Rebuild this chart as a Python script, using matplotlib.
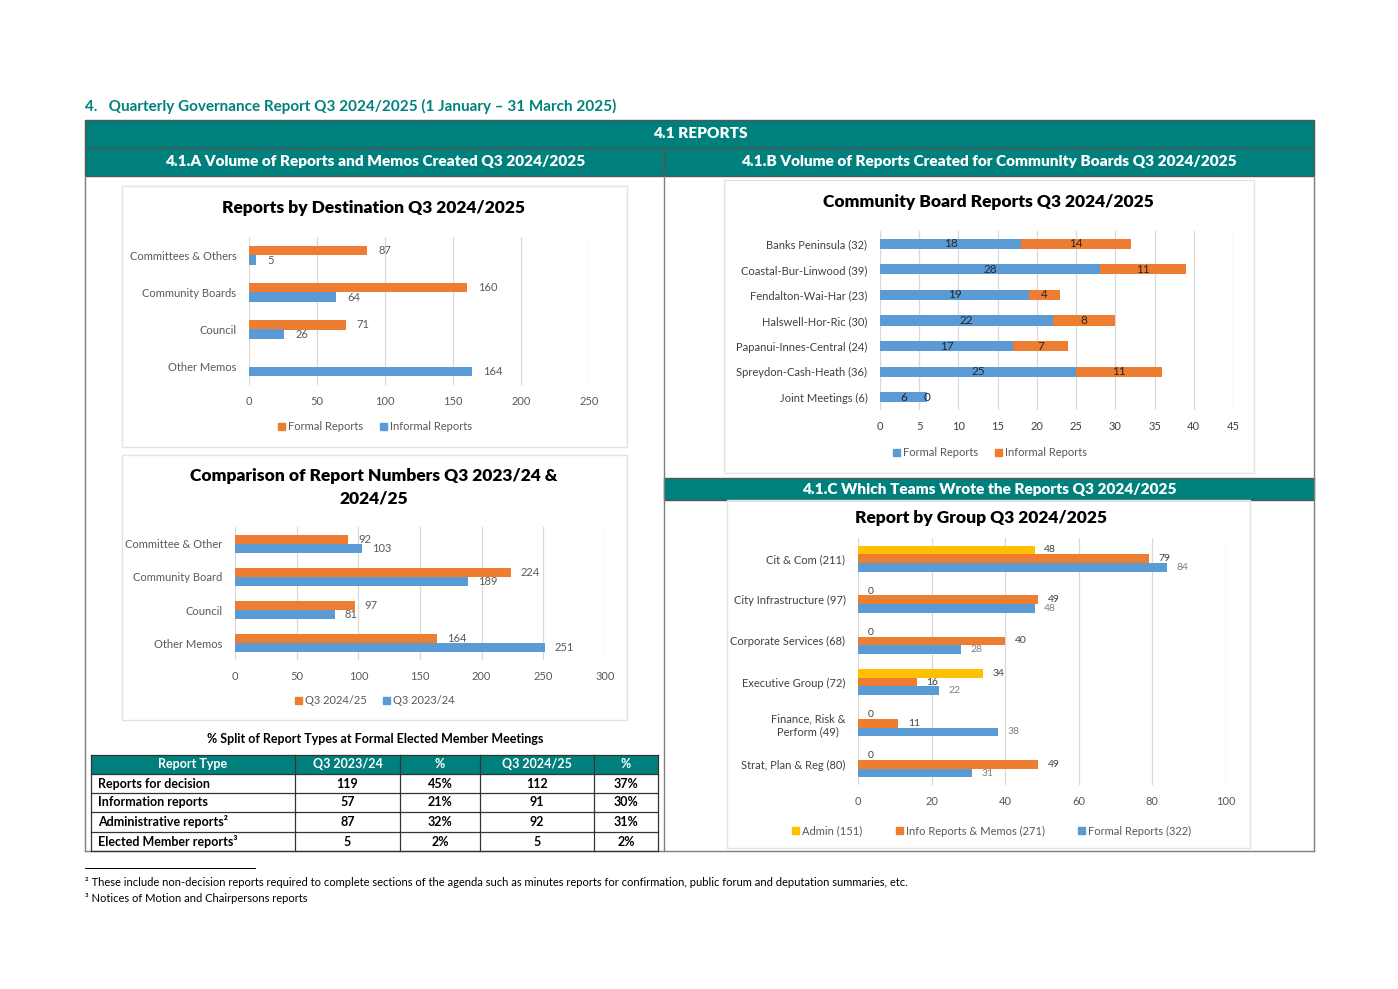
import numpy as np
import matplotlib
matplotlib.use('Agg')
import matplotlib.pyplot as plt
from matplotlib import font_manager
from matplotlib.patches import Rectangle, Patch
from matplotlib.lines import Line2D

# pick a family that actually has a bold face installed
have = {(f.name, f.weight) for f in font_manager.fontManager.ttflist}
family = 'DejaVu Sans'
for name in ['Lato', 'Roboto', 'Open Sans', 'Noto Sans', 'Liberation Sans']:
    if (name, 400) in have and (name, 700) in have:
        family = name
        break
plt.rcParams['font.family'] = [family, 'DejaVu Sans']

W, H = 1398, 989
ORANGE = '#ED7D31'
BLUE = '#5B9BD5'
YELLOW = '#FFC000'
TEAL = '#00807D'
GRID = '#D9D9D9'
GREY = '#595959'
EDGE = '#555555'
HEAVY = 'heavy'

# 4.1.A  Reports by Destination
dest_cats = ['Committees & Others', 'Community Boards', 'Council', 'Other Memos']
dest_formal = [87, 160, 71, np.nan]
dest_informal = [5, 64, 26, 164]

# Comparison of report numbers
comp_cats = ['Committee & Other', 'Community Board', 'Council', 'Other Memos']
comp_2425 = [92, 224, 97, 164]
comp_2324 = [103, 189, 81, 251]

# 4.1.B  Community boards
board_cats = ['Banks Peninsula (32)', 'Coastal-Bur-Linwood (39)', 'Fendalton-Wai-Har (23)',
              'Halswell-Hor-Ric (30)', 'Papanui-Innes-Central (24)', 'Spreydon-Cash-Heath (36)',
              'Joint Meetings (6)']
board_formal = [18, 28, 19, 22, 17, 25, 6]
board_informal = [14, 11, 4, 8, 7, 11, 0]

# 4.1.C  Report by group
group_cats = ['Cit & Com (211)', 'City Infrastructure (97)', 'Corporate Services (68)',
              'Executive Group (72)', 'Finance, Risk &\nPerform (49)', 'Strat, Plan & Reg (80)']
group_admin = [48, 0, 0, 34, 0, 0]
group_info = [79, 49, 40, 16, 11, 49]
group_formal = [84, 48, 28, 22, 38, 31]

# % split table
table_header = ['Report Type', 'Q3 2023/24', '%', 'Q3 2024/25', '%']
table_rows = [
    ['Reports for decision', '119', '45%', '112', '37%'],
    ['Information reports', '57', '21%', '91', '30%'],
    ['Administrative reports\u00b2', '87', '32%', '92', '31%'],
    ['Elected Member reports\u00b3', '5', '2%', '5', '2%'],
]
col_x = [91, 295, 400, 480, 594, 658]
row_y = [755, 774, 793, 812, 832, 851]

fig = plt.figure(figsize=(W / 100, H / 100), dpi=100)


def fx(x):
    return x / W


def fy(y):
    return 1 - y / H


def box(x0, y0, x1, y1, **kw):
    fig.add_artist(Rectangle((fx(x0), fy(y1)), fx(x1) - fx(x0), fy(y0) - fy(y1),
                             transform=fig.transFigure, **kw))


def line(x0, y0, x1, y1, **kw):
    fig.add_artist(Line2D([fx(x0), fx(x1)], [fy(y0), fy(y1)], transform=fig.transFigure, **kw))


def text(x, y, s, **kw):
    fig.text(fx(x), fy(y), s, **kw)


def add_ax(x0, y0, x1, y1, xmax, step, cats):
    ax = fig.add_axes([fx(x0), fy(y1), fx(x1) - fx(x0), fy(y0) - fy(y1)])
    ax.set_facecolor('none')
    ax.set_xlim(0, xmax)
    ax.set_xticks(np.arange(0, xmax + 1, step))
    ax.set_yticks(range(len(cats)))
    ax.set_yticklabels(cats, multialignment='center')
    ax.set_ylim(len(cats) - 0.5, -0.5)
    ax.grid(axis='x', color=GRID, lw=0.9)
    ax.set_axisbelow(True)
    for s in ax.spines.values():
        s.set_visible(False)
    ax.tick_params(length=0, labelsize=8, labelcolor=GREY)
    ax.tick_params(axis='y', pad=9)
    ax.tick_params(axis='x', pad=8)
    return ax


def legend(x, y, items, gap=1.5):
    handles = [Patch(color=c, label=l) for l, c in items]
    fig.legend(handles=handles, loc='center', bbox_to_anchor=(fx(x), fy(y)),
               bbox_transform=fig.transFigure, ncol=len(items), frameon=False,
               fontsize=8, labelcolor=GREY, handlelength=0.6, handleheight=0.6,
               handletextpad=0.3, columnspacing=gap)


# ---- header and bands
text(85, 106, '4.   Quarterly Governance Report Q3 2024/2025 (1 January \u2013 31 March 2025)',
     color=TEAL, fontsize=11, fontweight='bold', va='center')
box(85, 120, 1314, 148, facecolor=TEAL, edgecolor=EDGE, lw=1)
box(85, 148, 664, 176, facecolor=TEAL, edgecolor=EDGE, lw=1)
box(664, 148, 1314, 176, facecolor=TEAL, edgecolor=EDGE, lw=1)
box(664, 478, 1314, 500, facecolor=TEAL, edgecolor=EDGE, lw=1)
band = dict(color='white', fontsize=11.1, fontweight=HEAVY, ha='center', va='center')
text(700, 134, '4.1 REPORTS', **band)
text(375, 162, '4.1.A Volume of Reports and Memos Created Q3 2024/2025', **band)
text(989, 162, '4.1.B Volume of Reports Created for Community Boards Q3 2024/2025', **band)
text(989, 489, '4.1.C Which Teams Wrote the Reports Q3 2024/2025', **band)

# outer frame
line(85, 176, 85, 851, color='#7F7F7F', lw=1)
line(1314, 176, 1314, 851, color='#7F7F7F', lw=1)
line(85, 851, 1314, 851, color='#7F7F7F', lw=1)
line(664, 176, 664, 851, color='#7F7F7F', lw=1)

# chart frames
for b in [(122, 186, 627, 447), (122, 455, 627, 720), (724, 180, 1254, 473), (727, 500, 1250, 848)]:
    box(*b, fill=False, edgecolor='#E3E3E3', lw=1)

title = dict(fontsize=12.5, fontweight=HEAVY, ha='center', va='center', color='black')

# ---- chart 1: reports by destination
text(374, 208, 'Reports by Destination Q3 2024/2025', **title)
ax1 = add_ax(249, 237, 589, 385, 250, 50, dest_cats)
y = np.arange(len(dest_cats))
h = 0.27
c1 = ax1.barh(y - h / 2, dest_formal, h, color=ORANGE)
c2 = ax1.barh(y + h / 2, dest_informal, h, color=BLUE)
ax1.bar_label(c1, labels=['' if np.isnan(v) else str(int(v)) for v in dest_formal],
              padding=8, fontsize=8, color=GREY)
ax1.bar_label(c2, padding=8, fontsize=8, color=GREY)
legend(375, 427, [('Formal Reports', ORANGE), ('Informal Reports', BLUE)])

# ---- chart 2: comparison
text(374, 487, 'Comparison of Report Numbers Q3 2023/24 &\n2024/25', linespacing=1.5, **title)
ax2 = add_ax(235, 527, 605, 660, 300, 50, comp_cats)
y = np.arange(len(comp_cats))
c1 = ax2.barh(y - h / 2, comp_2425, h, color=ORANGE)
c2 = ax2.barh(y + h / 2, comp_2324, h, color=BLUE)
ax2.bar_label(c1, padding=7, fontsize=8, color=GREY)
ax2.bar_label(c2, padding=7, fontsize=8, color=GREY)
legend(375, 701, [('Q3 2024/25', ORANGE), ('Q3 2023/24', BLUE)])

# ---- table
text(375, 739, '% Split of Report Types at Formal Elected Member Meetings', fontsize=9,
     fontweight='bold', ha='center', va='center')
box(col_x[0], row_y[0], col_x[-1], row_y[1], facecolor=TEAL, edgecolor='none')
for yy in row_y:
    line(col_x[0], yy, col_x[-1], yy, color='#333333', lw=0.9)
for xx in col_x:
    line(xx, row_y[0], xx, row_y[-1], color='#333333', lw=0.9)
for j, s in enumerate(table_header):
    text((col_x[j] + col_x[j + 1]) / 2, (row_y[0] + row_y[1]) / 2, s, color='white',
         fontsize=9, fontweight='bold', ha='center', va='center')
for i, row in enumerate(table_rows):
    yc = (row_y[i + 1] + row_y[i + 2]) / 2
    for j, s in enumerate(row):
        if j == 0:
            text(col_x[0] + 7, yc, s, fontsize=9, fontweight='bold', ha='left', va='center')
        else:
            text((col_x[j] + col_x[j + 1]) / 2, yc, s, fontsize=9, fontweight='bold',
                 ha='center', va='center')

# ---- chart 3: community boards
text(988, 202, 'Community Board Reports Q3 2024/2025', **title)
ax3 = add_ax(880, 231, 1233, 410, 45, 5, board_cats)
ax3.tick_params(labelcolor='#404040')
y = np.arange(len(board_cats))
c1 = ax3.barh(y, board_formal, 0.4, color=BLUE)
c2 = ax3.barh(y, board_informal, 0.4, left=board_formal, color=ORANGE)
ax3.bar_label(c1, label_type='center', fontsize=8.5, color='#262626')
ax3.bar_label(c2, label_type='center', fontsize=8.5, color='#262626')
legend(990, 453, [('Formal Reports', BLUE), ('Informal Reports', ORANGE)])

# ---- chart 4: report by group
text(981, 518, 'Report by Group Q3 2024/2025', **title)
ax4 = add_ax(858, 538, 1226, 785, 100, 20, group_cats)
ax4.tick_params(axis='y', labelcolor='#404040')
y = np.arange(len(group_cats))
g = 0.21
c1 = ax4.barh(y - g, group_admin, g, color=YELLOW)
c2 = ax4.barh(y, group_info, g, color=ORANGE)
c3 = ax4.barh(y + g, group_formal, g, color=BLUE)
ax4.bar_label(c1, padding=7, fontsize=7.5, color='#404040')
ax4.bar_label(c2, padding=7, fontsize=7.5, color='#404040')
ax4.bar_label(c3, padding=7, fontsize=7.5, color='#7F7F7F')
legend(992, 831, [('Admin (151)', YELLOW), ('Info Reports & Memos (271)', ORANGE),
                  ('Formal Reports (322)', BLUE)], gap=3.0)

# ---- footnotes
line(85, 868, 255, 868, color='black', lw=0.7)
text(85, 883, '\u00b2 These include non-decision reports required to complete sections of the agenda such as '
     'minutes reports for confirmation, public forum and deputation summaries, etc.',
     fontsize=8, va='center')
text(85, 898, '\u00b3 Notices of Motion and Chairpersons reports', fontsize=8, va='center')

fig.savefig('out.png', dpi=100, facecolor='white')
